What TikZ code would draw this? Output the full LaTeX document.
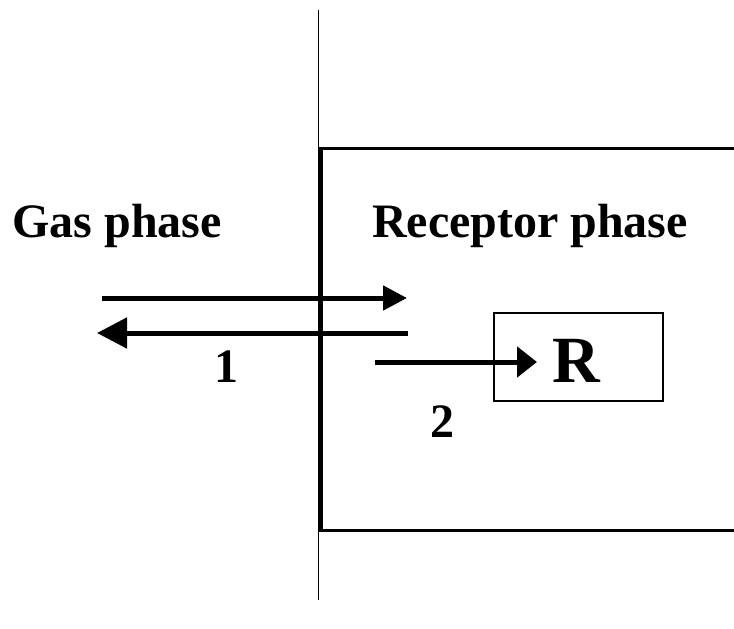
\documentclass[tikz,border=0pt]{standalone}
\usepackage{fontspec}
\setmainfont{Liberation Serif}
\usetikzlibrary{arrows.meta,positioning}
\tikzset{
    phaseline/.style={draw=black,line width=0.6pt},
    receptorwall/.style={draw=black,line width=1.6pt},
    flowarrow/.style={-{Triangle[length=12pt,width=12pt]},draw=black,
      line width=2.5pt},
    phaselabel/.style={font=\fontsize{24}{28}\selectfont\bfseries,
      anchor=base,inner sep=0pt},
    sitebox/.style={draw=black,line width=0.6pt,minimum width=84.5pt,
      minimum height=44pt,inner sep=0pt}
}
\begin{document}
\begin{tikzpicture}[x=0.5pt,y=0.5pt]
  \useasboundingbox (0,0) rectangle (734,628);
  % interface and receptor compartment
  \coordinate (ifTop) at (318.5,618);
  \coordinate (ifBot) at (318.5,28);
  \draw[phaseline] (ifTop)--(ifBot);
  \draw[receptorwall] (734,479.5)--(321,479.5)--(321,97.5)--(734,97.5);
  \node[phaselabel] (gas) at (117,391) {Gas phase};
  \node[phaselabel] (rec) at (530,391) {Receptor phase};
  \node[sitebox] (site) at (578.5,271) {};
  \node[font=\fontsize{33}{36}\selectfont\bfseries,anchor=base,inner sep=0pt] (R) at (576,246) {R};
  % exchange 1 and binding 2
  \coordinate (inA) at (102,330);  \coordinate (inB) at (407,330);
  \coordinate (outA) at (408,295); \coordinate (outB) at (97,295);
  \coordinate (bindA) at (375,266); \coordinate (bindB) at (537,266);
  \draw[flowarrow] (inA)--(inB);
  \draw[flowarrow,-{Triangle[length=15pt,width=15pt]}] (outA)--(outB);
  \draw[flowarrow,-{Triangle[length=10pt,width=15pt]}] (bindA)--(bindB);
  \node[phaselabel] (one) at (226,246) {1};
  \node[phaselabel] (two) at (442,191) {2};
\end{tikzpicture}
\end{document}
